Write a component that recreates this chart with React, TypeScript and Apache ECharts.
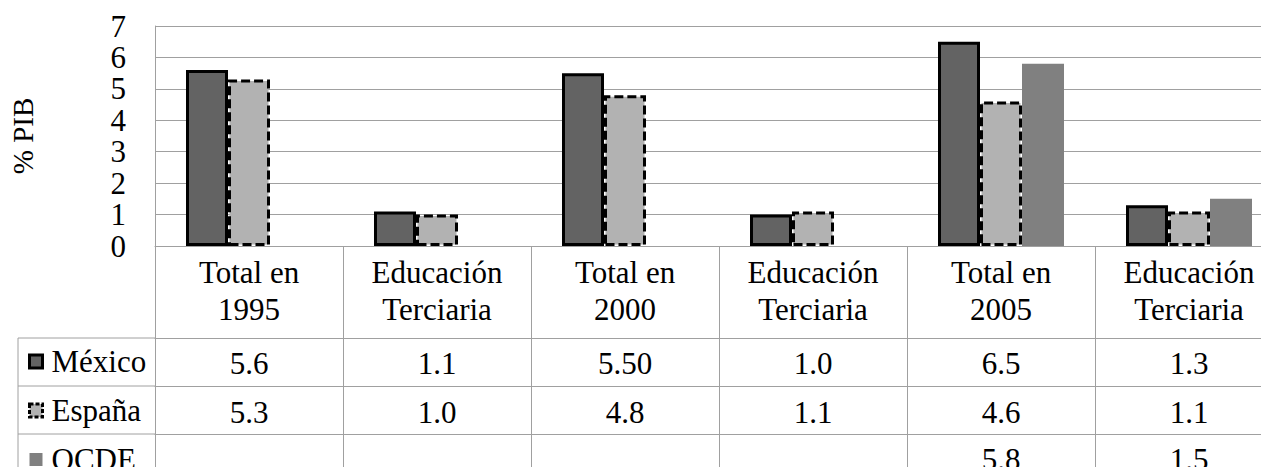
import React, { useEffect, useRef } from "react";
import * as echarts from "echarts";

// ---- data ----
const categories = [
  "Total en\n1995",
  "Educación\nTerciaria",
  "Total en\n2000",
  "Educación\nTerciaria",
  "Total en\n2005",
  "Educación\nTerciaria",
];
const seriesNames = ["México", "España", "OCDE"];
const mexico = [5.6, 1.1, 5.5, 1.0, 6.5, 1.3];
const espana = [5.3, 1.0, 4.8, 1.1, 4.6, 1.1];
const ocde = [null, null, null, null, 5.8, 1.5];
const mexicoTable = ["5.6", "1.1", "5.50", "1.0", "6.5", "1.3"];
const espanaTable = ["5.3", "1.0", "4.8", "1.1", "4.6", "1.1"];
const ocdeTable = ["", "", "", "", "5.8", "1.5"];
const yMin = 0;
const yMax = 7;
const yStep = 1;
const yTitle = "% PIB";

// ---- layout ----
const FONT = "Liberation Serif";
const GRID_LEFT = 155;
const GRID_TOP = 26;
const COL_W = 188;
const PLOT_H = 220;
const HEADER_H = 92;
const ROW_H = 48;
const TABLE_LEFT = 18;
const LINE = "#a0a0a0";
const CHART_W = 1320;
const CHART_H = 540;
const VIEW_W = 1261;
const VIEW_H = 467;

export default function App() {
  const ref = useRef<HTMLDivElement>(null);
  useEffect(() => {
    if (!ref.current) return;
    const chart = echarts.init(ref.current, undefined, { renderer: "svg" });
    const axisBottom = GRID_TOP + PLOT_H;
    const rowTables = [mexicoTable, espanaTable, ocdeTable];
    const rowMargins = [10, 11, 10];

    const rowAxes = rowTables.map((tbl, i) => ({
      type: "category",
      data: categories,
      gridIndex: 0,
      position: "bottom",
      offset: HEADER_H + ROW_H * i,
      axisLine: { show: true, lineStyle: { color: LINE, width: 1 } },
      axisTick: { show: true, length: ROW_H, lineStyle: { color: LINE, width: 1 } },
      axisLabel: {
        interval: 0,
        margin: rowMargins[i],
        color: "#000",
        fontFamily: FONT,
        fontSize: 31,
        lineHeight: 30,
        formatter: (_v: string, idx: number) => tbl[idx],
      },
      splitLine: { show: false },
    }));

    const tableLines: any[] = [];
    for (let i = 0; i < 3; i++) {
      const y = axisBottom + HEADER_H + ROW_H * i;
      tableLines.push({
        type: "line",
        shape: { x1: TABLE_LEFT, y1: y, x2: GRID_LEFT, y2: y },
        style: { stroke: LINE, lineWidth: 1 },
        silent: true,
      });
    }
    tableLines.push({
      type: "line",
      shape: {
        x1: TABLE_LEFT,
        y1: axisBottom + HEADER_H,
        x2: TABLE_LEFT,
        y2: axisBottom + HEADER_H + ROW_H * 3,
      },
      style: { stroke: LINE, lineWidth: 1 },
      silent: true,
    });

    chart.setOption({
      animation: false,
      backgroundColor: "#fff",
      textStyle: { fontFamily: FONT, color: "#000" },
      grid: {
        left: GRID_LEFT,
        top: GRID_TOP,
        width: COL_W * categories.length,
        height: PLOT_H,
        containLabel: false,
        outerBoundsMode: "none",
      },
      legend: {
        data: [
          { name: seriesNames[0], itemStyle: { borderColor: "#000", borderWidth: 3 } },
          { name: seriesNames[1], itemStyle: { borderColor: "#000", borderWidth: 3, borderType: [4, 2] } },
          { name: seriesNames[2], itemStyle: { borderWidth: 0 } },
        ],
        orient: "vertical",
        left: 28,
        top: axisBottom + HEADER_H + 8,
        padding: 0,
        icon: "rect",
        itemWidth: 13,
        itemHeight: 13,
        itemGap: ROW_H - 30,
        selectedMode: false,
        textStyle: {
          color: "#000",
          fontFamily: FONT,
          fontSize: 31,
          lineHeight: 30,
          padding: [0, 0, 0, 4],
        },
      },
      xAxis: [
        {
          type: "category",
          data: categories,
          gridIndex: 0,
          position: "bottom",
          axisLine: { show: true, lineStyle: { color: LINE, width: 1 } },
          axisTick: { show: true, length: HEADER_H, lineStyle: { color: LINE, width: 1 } },
          axisLabel: {
            interval: 0,
            margin: 8,
            color: "#000",
            fontFamily: FONT,
            fontSize: 31,
            lineHeight: 37,
          },
          splitLine: { show: false },
        },
        ...rowAxes,
      ],
      yAxis: {
        type: "value",
        min: yMin,
        max: yMax,
        interval: yStep,
        name: yTitle,
        nameLocation: "middle",
        nameRotate: 90,
        nameGap: 118,
        nameTextStyle: { color: "#000", fontFamily: FONT, fontSize: 29 },
        axisLine: { show: true, lineStyle: { color: LINE, width: 1 } },
        axisTick: { show: false },
        axisLabel: { color: "#000", fontFamily: FONT, fontSize: 31, lineHeight: 30, margin: 29 },
        splitLine: { show: true, lineStyle: { color: LINE, width: 1 } },
      },
      series: [
        {
          name: seriesNames[0],
          type: "bar",
          data: mexico,
          barWidth: 42,
          barGap: "0%",
          itemStyle: { color: "#636363", borderColor: "#000", borderWidth: 3 },
        },
        {
          name: seriesNames[1],
          type: "bar",
          data: espana,
          barWidth: 42,
          barGap: "0%",
          itemStyle: { color: "#b2b2b2", borderColor: "#000", borderWidth: 3, borderType: [9, 4] },
        },
        {
          name: seriesNames[2],
          type: "bar",
          data: ocde,
          barWidth: 42,
          barGap: "0%",
          itemStyle: { color: "#808080", borderWidth: 0 },
        },
      ],
      graphic: tableLines,
    });
    return () => chart.dispose();
  }, []);

  return (
    <div
      style={{
        position: "fixed",
        left: 0,
        top: 0,
        width: VIEW_W,
        height: VIEW_H,
        overflow: "hidden",
        background: "#fff",
      }}
    >
      <div ref={ref} style={{ width: CHART_W, height: CHART_H }} />
    </div>
  );
}
